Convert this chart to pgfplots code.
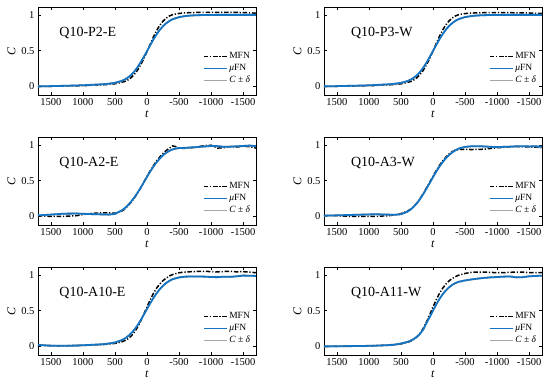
\documentclass[border=0pt]{standalone}
\usepackage{fontspec}
\setmainfont{Liberation Serif}
\usepackage{pgfplots}
\usepackage{pgfplotstable}
\pgfplotsset{compat=1.18}
\definecolor{mblue}{RGB}{20,116,194}

% t = time, m = MFN, u = muFN
\pgfplotstableread{
t m u
1700 0.000 0.000
1500 0.002 0.004
1300 0.005 0.008
1100 0.008 0.013
900 0.014 0.020
700 0.022 0.030
600 0.028 0.037
500 0.037 0.050
400 0.056 0.075
350 0.068 0.095
300 0.089 0.122
250 0.121 0.158
200 0.165 0.205
150 0.224 0.265
100 0.300 0.335
50 0.386 0.413
0 0.487 0.493
-50 0.589 0.575
-100 0.690 0.655
-150 0.780 0.727
-200 0.855 0.790
-250 0.912 0.842
-300 0.955 0.883
-350 0.985 0.915
-400 1.003 0.940
-500 1.020 0.968
-600 1.028 0.984
-700 1.032 0.992
-800 1.034 0.996
-900 1.035 0.998
-1000 1.035 0.999
-1100 1.035 1.000
-1200 1.035 1.000
-1300 1.035 1.000
-1400 1.034 1.000
-1500 1.032 1.000
-1600 1.028 1.000
-1700 1.024 1.000
}\tA
\pgfplotstableread{
t m u
1700 0.000 0.000
1500 0.002 0.004
1300 0.004 0.008
1100 0.008 0.012
900 0.013 0.019
700 0.021 0.029
600 0.027 0.036
500 0.036 0.049
400 0.055 0.074
350 0.068 0.094
300 0.090 0.121
250 0.123 0.157
200 0.168 0.204
150 0.228 0.264
100 0.305 0.335
50 0.392 0.414
0 0.495 0.496
-50 0.598 0.578
-100 0.698 0.658
-150 0.787 0.730
-200 0.860 0.792
-250 0.915 0.844
-300 0.956 0.885
-350 0.985 0.917
-400 1.002 0.941
-500 1.018 0.969
-600 1.025 0.984
-700 1.028 0.992
-800 1.030 0.996
-900 1.030 0.998
-1000 1.030 0.999
-1100 1.030 1.000
-1200 1.030 1.000
-1300 1.029 1.000
-1400 1.028 1.000
-1500 1.026 1.000
-1600 1.022 1.000
-1700 1.020 1.000
}\tB
\pgfplotstableread{
t m u
1700 0.010 0.015
1500 0.000 0.025
1300 0.000 0.038
1100 0.010 0.040
900 0.040 0.033
700 0.050 0.028
600 0.050 0.025
500 0.045 0.035
400 0.070 0.080
350 0.100 0.112
300 0.145 0.155
250 0.195 0.205
200 0.255 0.262
150 0.322 0.327
100 0.397 0.398
50 0.478 0.475
0 0.560 0.553
-50 0.638 0.627
-100 0.710 0.695
-150 0.775 0.757
-200 0.832 0.810
-250 0.880 0.855
-300 0.920 0.890
-350 0.955 0.917
-400 0.985 0.937
-450 0.975 0.948
-500 0.955 0.955
-600 0.950 0.958
-700 0.960 0.965
-800 0.975 0.970
-900 0.990 0.978
-1000 0.995 0.985
-1100 0.955 0.982
-1200 0.960 0.972
-1300 0.975 0.975
-1400 0.970 0.980
-1500 0.980 0.985
-1600 0.975 0.990
-1700 0.955 0.982
}\tC
\pgfplotstableread{
t m u
1700 0.010 0.010
1500 0.010 0.015
1300 0.000 0.020
1100 0.000 0.025
900 0.000 0.030
700 0.010 0.025
600 0.020 0.022
500 0.040 0.030
400 0.075 0.065
350 0.100 0.095
300 0.138 0.135
250 0.188 0.185
200 0.250 0.245
150 0.322 0.315
100 0.400 0.390
50 0.480 0.468
0 0.560 0.548
-50 0.640 0.625
-100 0.712 0.695
-150 0.775 0.758
-200 0.828 0.812
-250 0.872 0.858
-300 0.905 0.895
-350 0.925 0.925
-400 0.935 0.948
-500 0.936 0.972
-600 0.935 0.980
-700 0.936 0.982
-800 0.940 0.978
-900 0.950 0.972
-1000 0.960 0.970
-1100 0.965 0.972
-1200 0.970 0.975
-1300 0.975 0.980
-1400 0.975 0.982
-1500 0.970 0.978
-1600 0.970 0.980
-1700 0.960 0.972
}\tD
\pgfplotstableread{
t m u
1700 0.020 0.020
1500 0.010 0.010
1300 0.008 0.008
1100 0.012 0.012
900 0.018 0.020
700 0.025 0.030
600 0.032 0.040
500 0.042 0.055
400 0.062 0.085
350 0.080 0.108
300 0.105 0.140
250 0.142 0.180
200 0.195 0.230
150 0.265 0.292
100 0.350 0.365
50 0.450 0.443
0 0.553 0.523
-50 0.652 0.602
-100 0.740 0.676
-150 0.815 0.743
-200 0.873 0.800
-250 0.920 0.848
-300 0.955 0.887
-350 0.985 0.917
-400 1.005 0.940
-500 1.030 0.965
-600 1.040 0.975
-700 1.045 0.978
-800 1.048 0.978
-900 1.050 0.975
-1000 1.045 0.970
-1100 1.042 0.968
-1200 1.048 0.975
-1300 1.050 0.972
-1400 1.042 0.980
-1500 1.045 0.990
-1600 1.038 0.988
-1700 1.030 0.985
}\tE
\pgfplotstableread{
t m u
1700 0.000 0.000
1500 0.002 0.002
1300 0.004 0.004
1100 0.006 0.006
900 0.010 0.010
700 0.016 0.018
600 0.022 0.025
500 0.034 0.040
400 0.055 0.062
350 0.072 0.080
300 0.098 0.103
250 0.135 0.135
200 0.185 0.178
150 0.255 0.240
100 0.345 0.330
50 0.445 0.412
0 0.550 0.500
-50 0.650 0.585
-100 0.740 0.662
-150 0.812 0.728
-200 0.870 0.782
-250 0.915 0.826
-300 0.950 0.860
-350 0.975 0.885
-400 0.995 0.903
-500 1.020 0.922
-600 1.035 0.936
-700 1.040 0.948
-800 1.040 0.958
-900 1.035 0.965
-1000 1.030 0.970
-1100 1.032 0.975
-1200 1.035 0.978
-1300 1.040 0.965
-1400 1.038 0.968
-1500 1.030 0.980
-1600 1.030 0.985
-1700 1.030 0.988
}\tF

\pgfplotsset{
  myax/.style={
    scale only axis, width=218pt, height=88pt, anchor=south west,
    x dir=reverse, xmin=-1700, xmax=1700, ymin=-0.12, ymax=1.11,
    xtick={1500,1000,500,0,-500,-1000,-1500},
    xticklabels={1500,1000,500,0,-500,-1000,-1500},
    ytick={0,0.5,1}, yticklabels={0,0.5,1},
    /pgf/number format/assume math mode=true,
    tick align=inside, major tick length=3pt,
    axis line style={line width=0.8pt}, tick style={line width=0.6pt, black},
    ticklabel style={font=\rmfamily\fontsize{10.5}{12}\selectfont},
    xlabel={\textit{t}}, ylabel={\textit{C}},
    label style={font=\rmfamily\fontsize{12}{14}\selectfont},
    xlabel style={yshift=2pt}, ylabel style={yshift=-1pt},
    legend cell align=left,
    legend image code/.code={\draw[##1] (0pt,0pt) -- (23pt,0pt);},
    legend style={draw=none, fill=none, at={(0.995,0.075)}, anchor=south east,
      font=\rmfamily\fontsize{9.5}{11}\selectfont, row sep=0.5pt,
      nodes={text height=6.5pt, text depth=2pt, inner sep=1.5pt}},
  },
}
\newcommand{\lgd}{%
  \addlegendimage{black, line width=1.5pt, dash pattern=on 4.5pt off 1.8pt on 1.2pt off 1.8pt}\addlegendentry{MFN}
  \addlegendimage{mblue, line width=1.8pt}\addlegendentry{\textit{μ}FN}
  \addlegendimage{gray!70, line width=0.5pt}\addlegendentry{\textit{C} ± \textit{δ}}}
\newcommand{\curves}[1]{%
  \addplot[black, line width=1.5pt, dash pattern=on 4.5pt off 1.8pt on 1.2pt off 1.8pt, forget plot] table[x=t, y=m]{#1};
  \addplot[gray!70, line width=0.4pt, forget plot, yshift=0.7pt] table[x=t, y=u]{#1};
  \addplot[gray!70, line width=0.4pt, forget plot, yshift=-0.7pt] table[x=t, y=u]{#1};
  \addplot[mblue, line width=1.8pt, forget plot] table[x=t, y=u]{#1};}

\begin{document}
\begin{tikzpicture}
\useasboundingbox (0,0) rectangle (550pt,385pt);
\begin{axis}[myax, at={(38pt,290pt)}]
\lgd \curves{\tA}
\node[anchor=west, font=\fontsize{14}{16}\selectfont] at (rel axis cs:0.082,0.70) {Q10-P2-E};
\end{axis}
\begin{axis}[myax, at={(324pt,290pt)}]
\lgd \curves{\tB}
\node[anchor=west, font=\fontsize{14}{16}\selectfont] at (rel axis cs:0.108,0.70) {Q10-P3-W};
\end{axis}
\begin{axis}[myax, at={(38pt,160pt)}]
\lgd \curves{\tC}
\node[anchor=west, font=\fontsize{14}{16}\selectfont] at (rel axis cs:0.082,0.70) {Q10-A2-E};
\end{axis}
\begin{axis}[myax, at={(324pt,160pt)}]
\lgd \curves{\tD}
\node[anchor=west, font=\fontsize{14}{16}\selectfont] at (rel axis cs:0.108,0.70) {Q10-A3-W};
\end{axis}
\begin{axis}[myax, at={(38pt,30pt)}]
\lgd \curves{\tE}
\node[anchor=west, font=\fontsize{14}{16}\selectfont] at (rel axis cs:0.082,0.70) {Q10-A10-E};
\end{axis}
\begin{axis}[myax, at={(324pt,30pt)}]
\lgd \curves{\tF}
\node[anchor=west, font=\fontsize{14}{16}\selectfont] at (rel axis cs:0.108,0.70) {Q10-A11-W};
\end{axis}
\end{tikzpicture}
\end{document}
